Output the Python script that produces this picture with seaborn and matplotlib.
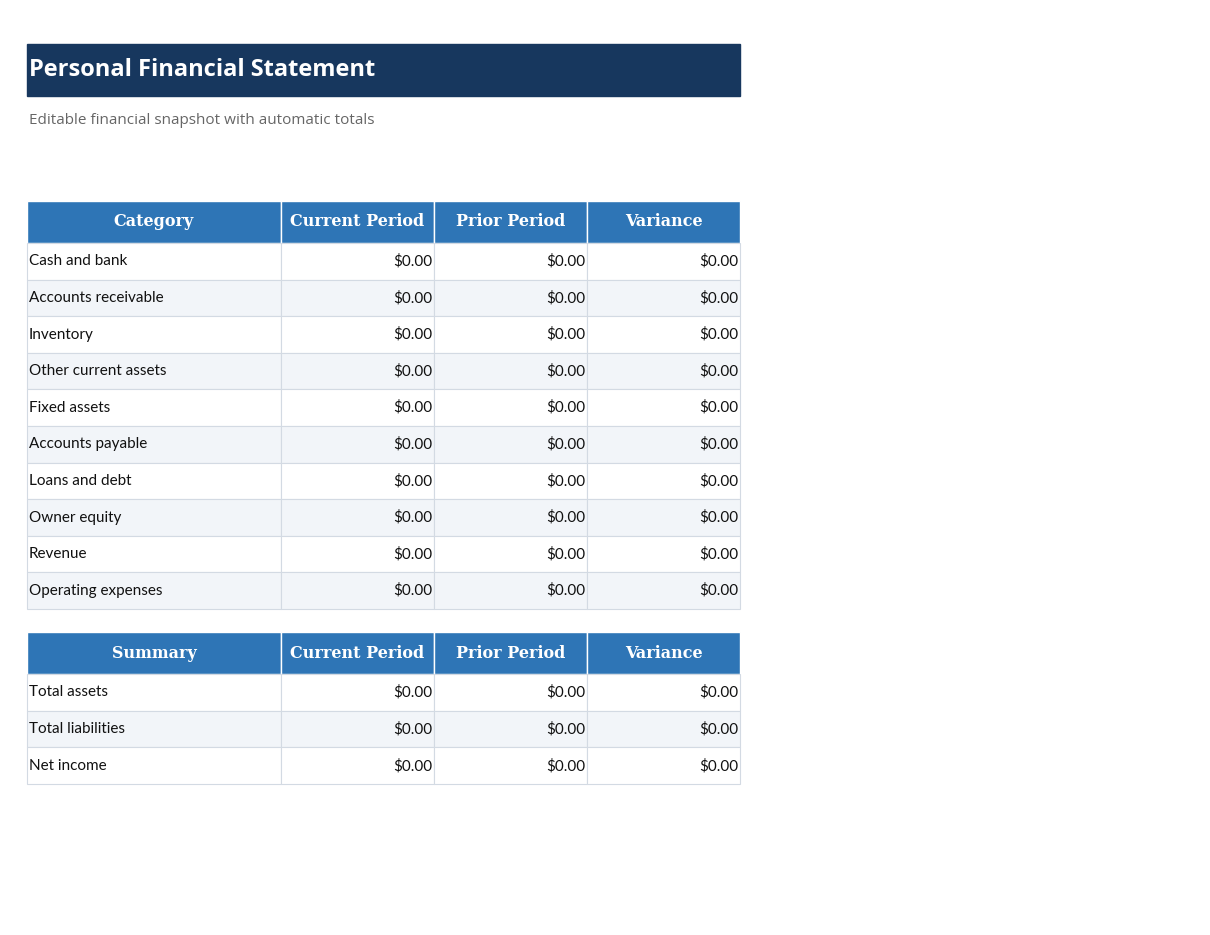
import matplotlib
matplotlib.use("Agg")
import matplotlib.pyplot as plt
import seaborn as sns
from matplotlib.patches import Rectangle

sns.set_style("white")
plt.rcParams['font.family'] = ['Lato', 'DejaVu Sans']

title = "Personal Financial Statement"
subtitle = "Editable financial snapshot with automatic totals"
columns1 = ["Category", "Current Period", "Prior Period", "Variance"]
categories = ["Cash and bank", "Accounts receivable", "Inventory", "Other current assets",
              "Fixed assets", "Accounts payable", "Loans and debt", "Owner equity",
              "Revenue", "Operating expenses"]
current = [0.0] * 10
prior = [0.0] * 10
variance = [0.0] * 10
columns2 = ["Summary", "Current Period", "Prior Period", "Variance"]
summary = ["Total assets", "Total liabilities", "Net income"]
sum_current = [0.0, 0.0, 0.0]
sum_prior = [0.0, 0.0, 0.0]
sum_variance = [0.0, 0.0, 0.0]

fig = plt.figure(figsize=(12.1, 9.35), dpi=100)
ax = fig.add_axes([0, 0, 1, 1])
ax.set_xlim(0, 1210); ax.set_ylim(935, 0); ax.axis("off")

ax.add_patch(Rectangle((27, 44), 713, 52, color="#17375E"))
ax.text(29, 70, title, color="white", fontsize=17, fontweight="bold",
        family="Open Sans", va="center")
ax.text(29, 121, subtitle, color="#666666", fontsize=11, family="Open Sans", va="center")

xs = [27, 281, 434, 587, 740]
HDR = "#2E75B6"; ALT = "#F2F5F9"; GRID = "#D3DAE3"

def table(top, headers, names, a, b, c, rowh=36.6, hh=42):
    for i, h in enumerate(headers):
        ax.add_patch(Rectangle((xs[i], top), xs[i+1]-xs[i], hh, facecolor=HDR,
                               edgecolor="white", lw=1))
        ax.text((xs[i]+xs[i+1])/2, top+hh/2, h, color="white", fontsize=11.5,
                fontweight="bold", family="DejaVu Serif", ha="center", va="center")
    y = top + hh
    for r, name in enumerate(names):
        fc = "white" if r % 2 == 0 else ALT
        for i in range(4):
            ax.add_patch(Rectangle((xs[i], y), xs[i+1]-xs[i], rowh, facecolor=fc,
                                   edgecolor=GRID, lw=0.8))
        ax.text(29, y+rowh/2, name, fontsize=11, va="center", color="#111111")
        for i, v in enumerate([a[r], b[r], c[r]]):
            ax.text(xs[i+2]-2, y+rowh/2, f"${v:,.2f}", fontsize=11, ha="right",
                    va="center", color="#111111")
        y += rowh

table(201, columns1, categories, current, prior, variance)
table(632, columns2, summary, sum_current, sum_prior, sum_variance, rowh=36.7)

fig.savefig("out.png", dpi=100)
